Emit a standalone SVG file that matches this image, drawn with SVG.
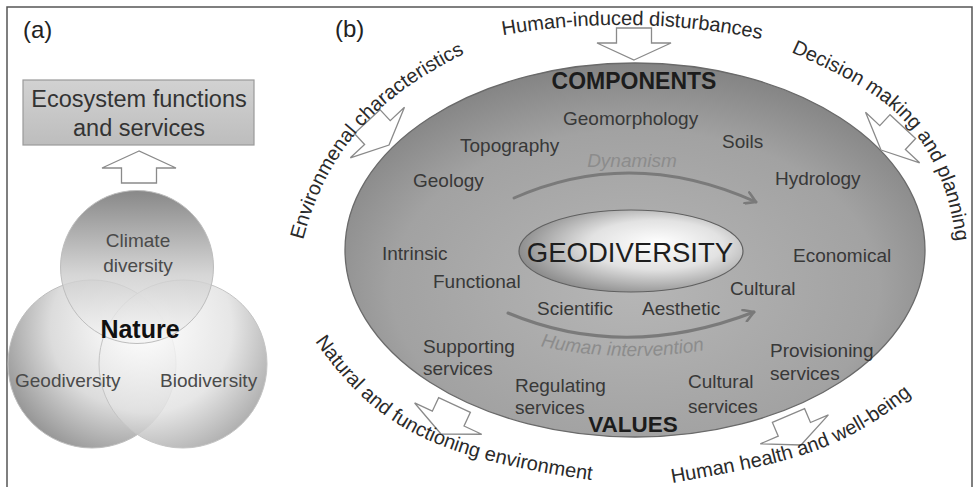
<svg xmlns="http://www.w3.org/2000/svg" xmlns:xlink="http://www.w3.org/1999/xlink" width="975" height="487" viewBox="0 0 975 487">
<style>
.t{font-family:"Liberation Sans",Arial,Helvetica,sans-serif}
.outer{font-size:20px;fill:#2a2a2a}
.in{font-size:19px;fill:#383838}
.lbl{font-size:19px;fill:#4a4a4a}
.ital{font-size:19px;fill:#8c8c8c;font-style:italic}
.head{font-weight:bold;fill:#1c1c1c}
.blk{fill:#ffffff;stroke:#8a8a8a;stroke-width:1.3}
.curve{fill:none;stroke:#7a7a7a;stroke-width:3;stroke-linecap:round}
</style>
<defs>
<linearGradient id="gBox" x1="0" y1="0" x2="0" y2="1">
<stop offset="0" stop-color="#d2d2d2"/><stop offset="1" stop-color="#bdbdbd"/>
</linearGradient>
<linearGradient id="gTop" x1="0" y1="0" x2="0" y2="1">
<stop offset="0" stop-color="#6e6e6e"/><stop offset="0.55" stop-color="#cdcdcd"/><stop offset="1" stop-color="#f6f6f6"/>
</linearGradient>
<radialGradient id="gLeft" cx="0.72" cy="0.28" r="0.85" fx="0.72" fy="0.28">
<stop offset="0" stop-color="#ffffff"/><stop offset="0.55" stop-color="#d8d8d8"/><stop offset="1" stop-color="#828282"/>
</radialGradient>
<radialGradient id="gRight" cx="0.28" cy="0.28" r="0.85" fx="0.28" fy="0.28">
<stop offset="0" stop-color="#ffffff"/><stop offset="0.6" stop-color="#e2e2e2"/><stop offset="1" stop-color="#9a9a9a"/>
</radialGradient>
<radialGradient id="gBig" cx="0.5" cy="0.6" r="0.6">
<stop offset="0" stop-color="#b6b6b6"/><stop offset="0.7" stop-color="#a2a2a2"/><stop offset="1" stop-color="#838383"/>
</radialGradient>
<radialGradient id="gGeo" cx="0.6" cy="0.45" r="0.6" fx="0.62" fy="0.4">
<stop offset="0" stop-color="#ffffff"/><stop offset="0.5" stop-color="#e2e2e2"/><stop offset="1" stop-color="#8e8e8e"/>
</radialGradient>
<marker id="chev" viewBox="0 0 14 14" refX="12" refY="7" markerWidth="14" markerHeight="14" markerUnits="userSpaceOnUse" orient="auto">
<path d="M2,1 L12,7 L2,13" fill="none" stroke="#7a7a7a" stroke-width="2.6" stroke-linecap="round" stroke-linejoin="round"/>
</marker>
<polygon id="blkArrow" points="0,0 37,-17 17.5,-17 17.5,-32 -17.5,-32 -17.5,-17 -37,-17"/>
<path id="pEnv" d="M303,240 C327,150 375,95 480,46"/>
<path id="pHum" d="M498,36 Q630,12 766,40"/>
<path id="pDec" d="M791,52 C864,86 948,115 958,262"/>
<path id="pNat" d="M315,341 C380,434 442,459 604,482"/>
<path id="pHH" d="M672,483 C783,463 840,456 922,386"/>
<path id="pInt" d="M540,346 Q622,364 705,350"/>
</defs>

<rect width="975" height="487" fill="#ffffff"/>
<path d="M7,487 V7 H972 V487" fill="none" stroke="#555" stroke-width="1.5"/>

<!-- Panel (a) -->
<g id="panel-a">
<text class="t" x="23" y="38" font-size="24" fill="#222">(a)</text>
<g id="node-ecosystem">
<rect x="23" y="80" width="231" height="65" fill="url(#gBox)" stroke="#9a9a9a" stroke-width="1.2"/>
<text class="t" font-size="23.5" fill="#333" text-anchor="middle"><tspan x="139" y="107">Ecosystem functions</tspan><tspan x="139" y="136">and services</tspan></text>
</g>
<g id="node-geodiv-circle">
<circle cx="92" cy="364" r="84" fill="url(#gLeft)" fill-opacity="0.9" stroke="#bdbdbd" stroke-width="1"/>
</g>
<g id="node-biodiv-circle">
<circle cx="183" cy="364" r="84" fill="url(#gRight)" fill-opacity="0.85" stroke="#c4c4c4" stroke-width="1"/>
</g>
<g id="node-climate">
<circle cx="137" cy="267" r="76.5" fill="url(#gTop)" fill-opacity="0.82" stroke="#bdbdbd" stroke-width="1"/>
<text class="t lbl" text-anchor="middle"><tspan x="138" y="247">Climate</tspan><tspan x="138" y="272">diversity</tspan></text>
</g>
<g id="node-geodiversity-label"><text class="t lbl" x="15" y="387">Geodiversity</text></g>
<g id="node-biodiversity-label"><text class="t lbl" x="160" y="387">Biodiversity</text></g>
<g id="node-nature"><text class="t" x="140" y="338" font-size="25" font-weight="bold" fill="#111" text-anchor="middle">Nature</text></g>
</g>

<!-- Panel (b) -->
<g id="panel-b">
<text class="t" x="335" y="37" font-size="24" fill="#222">(b)</text>
<g id="node-outer-ellipse">
<ellipse cx="635" cy="250" rx="290" ry="187" fill="url(#gBig)" stroke="#6a6a6a" stroke-width="1.3"/>
</g>
<g id="node-geodiversity">
<ellipse cx="631" cy="251" rx="112" ry="41" fill="url(#gGeo)" stroke="#606060" stroke-width="1.2"/>
<text class="t" x="630" y="262" font-size="27.5" fill="#1e1e1e" text-anchor="middle">GEODIVERSITY</text>
</g>
<g id="node-components"><text class="t head" x="634" y="89" font-size="23" text-anchor="middle">COMPONENTS</text></g>
<g id="node-values"><text class="t head" x="633" y="432" font-size="22.5" text-anchor="middle">VALUES</text></g>

<g id="node-components-items">
<text class="t in" x="563" y="125">Geomorphology</text>
<text class="t in" x="460" y="152">Topography</text>
<text class="t in" x="722" y="148">Soils</text>
<text class="t in" x="413" y="187">Geology</text>
<text class="t in" x="775" y="185">Hydrology</text>
</g>
<g id="node-values-items">
<text class="t in" x="382" y="260">Intrinsic</text>
<text class="t in" x="433" y="288">Functional</text>
<text class="t in" x="793" y="262">Economical</text>
<text class="t in" x="730" y="295">Cultural</text>
<text class="t in" x="537" y="315">Scientific</text>
<text class="t in" x="642" y="315">Aesthetic</text>
</g>
<g id="node-services">
<text class="t in"><tspan x="423" y="353">Supporting</tspan><tspan x="423" y="375">services</tspan></text>
<text class="t in"><tspan x="515" y="392">Regulating</tspan><tspan x="515" y="414">services</tspan></text>
<text class="t in"><tspan x="688" y="388">Cultural</tspan><tspan x="688" y="413">services</tspan></text>
<text class="t in"><tspan x="770" y="357">Provisioning</tspan><tspan x="770" y="380">services</tspan></text>
</g>

<g id="connectors">
<path class="curve" d="M514,198 Q632,146 756,202" marker-end="url(#chev)"/>
<path class="curve" d="M508,313 Q625,362 754,312" marker-end="url(#chev)"/>
<use href="#blkArrow" class="blk" transform="translate(139,151) rotate(180)"/>
<use href="#blkArrow" class="blk" transform="translate(634,60)"/>
<use href="#blkArrow" class="blk" transform="translate(389,145) rotate(-43)"/>
<use href="#blkArrow" class="blk" transform="translate(881,150) rotate(43)"/>
<use href="#blkArrow" class="blk" transform="translate(441,434) rotate(25)"/>
<use href="#blkArrow" class="blk" transform="translate(801,445) rotate(-23)"/>
</g>
<g id="node-dynamism"><text class="t ital" x="632" y="167" text-anchor="middle">Dynamism</text></g>
<g id="node-human-intervention"><text class="t ital"><textPath href="#pInt" startOffset="50%" text-anchor="middle">Human intervention</textPath></text></g>

<g id="node-env"><text class="t outer"><textPath href="#pEnv">Environmenal characteristics</textPath></text></g>
<g id="node-hid"><text class="t outer" font-size="20.5"><textPath href="#pHum" startOffset="50%" text-anchor="middle">Human-induced disturbances</textPath></text></g>
<g id="node-dec"><text class="t outer"><textPath href="#pDec">Decision making and planning</textPath></text></g>
<g id="node-nat"><text class="t outer" font-size="19.5"><textPath href="#pNat">Natural and functioning environment</textPath></text></g>
<g id="node-hh"><text class="t outer" font-size="19.5"><textPath href="#pHH">Human health and well-being</textPath></text></g>
</g>
</svg>
